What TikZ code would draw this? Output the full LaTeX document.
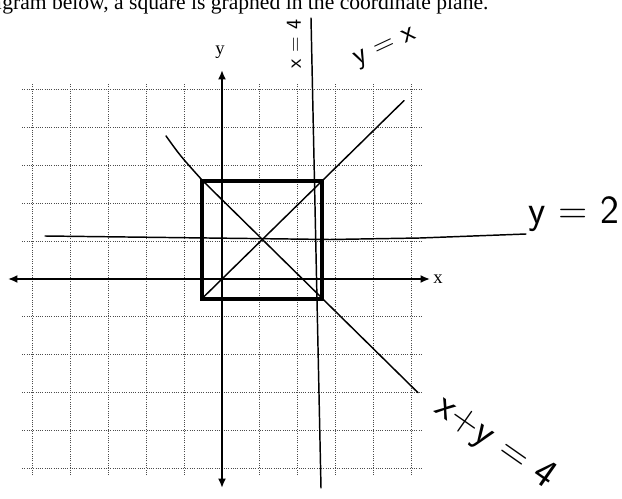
\documentclass[tikz,border=0pt]{standalone}
\usepackage{fontspec}
\setmainfont{Liberation Serif}
\usetikzlibrary{arrows.meta}
\begin{document}
\begin{tikzpicture}[x=0.75pt,y=-0.75pt,
  gridline/.style={line width=0.75pt, black!70, dash pattern=on 0.7pt off 1.0pt},
  axisline/.style={line width=2.2pt, {Latex[length=7pt,width=6pt]}-{Latex[length=7pt,width=6pt]}},
  squareline/.style={line width=3pt, line join=miter},
  penline/.style={line width=1.1pt, line cap=round},
  hand/.style={font=\sffamily, inner sep=0pt},
  axislabel/.style={font=\fontsize{14}{15}\selectfont, inner sep=0pt}
]
\useasboundingbox (0,0) rectangle (622,499);
\clip (0,0) rectangle (622,499);
% printed heading, cut off at the top
\node[anchor=base east, inner sep=0pt, font=\fontsize{16.2}{18}\selectfont] (headA) at (2,9.5) {a};
\node[anchor=base west, inner sep=0pt, font=\fontsize{16.2}{18}\selectfont] (head) at (2,9.5) {gram below, a square is graphed in the coordinate plane.};
\begin{scope}[shift={(222,279)}, x=15pt, y=14.7pt]
  % grid
  \draw[gridline] (-10,-10) grid (10,10);
  % axes
  \draw[axisline] (-10.7,0) -- (10.4,0);
  \draw[axisline] (0,-10.66) -- (0,10.66);
  \node[axislabel] (xl) at (10.8,0) {x};
  \node[axislabel] (yl) at (-0.1,11.55) {y};
  % square
  \draw[squareline] (-1,-1) rectangle (5,5);
  % y = x
  \draw[penline] (-1,-1) -- (9.1,9.1);
  % x + y = 4
  \draw[penline] (-2.8,7.3) .. controls (-2.1,6.3) .. (-1,5.05) -- (9.8,-5.8);
\end{scope}
% y = 2 (hand drawn)
\draw[penline] (45,236) -- (330,239.5) -- (420,238) -- (526,234);
% x = 4 (hand drawn, slightly slanted)
\draw[penline] (311,18) -- (321,488);
% handwritten labels
\node[hand, font=\sffamily\fontsize{30}{32}\selectfont] (l2) at (574,214) {y = 2};
\node[hand, font=\sffamily\fontsize{22}{24}\selectfont, rotate=25] (lyx) at (386,49) {y = x};
\node[hand, font=\sffamily\fontsize{30}{32}\selectfont, rotate=-35] (lxy) at (495,443) {x+y = 4};
\node[hand, font=\sffamily\fontsize{16}{18}\selectfont, rotate=90] (lx4) at (294,44) {x = 4};
\end{tikzpicture}
\end{document}
